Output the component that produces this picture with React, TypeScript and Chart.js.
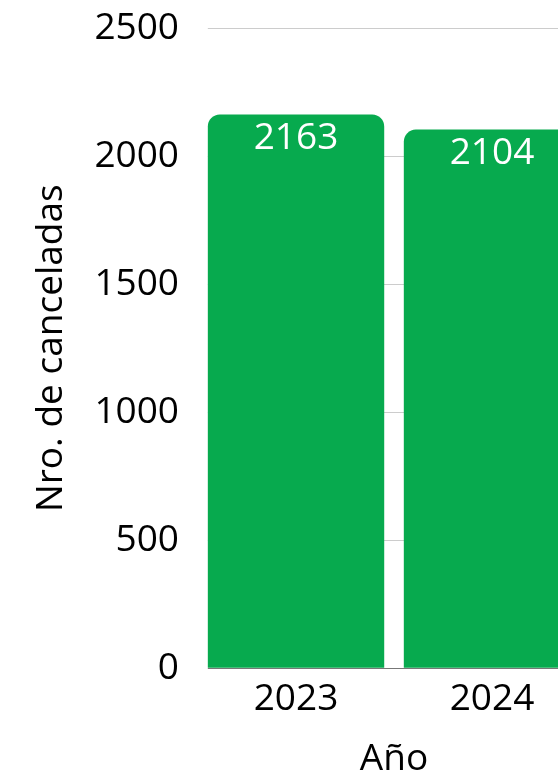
import React, { useEffect, useRef } from "react";
import { Chart, registerables } from "chart.js";

Chart.register(...registerables);

const categories: string[] = ["2023", "2024"];
const cancelled: number[] = [2163, 2104];
const yTicks: number[] = [0, 500, 1000, 1500, 2000, 2500];

const FONT = "'Open Sans', 'Noto Sans', sans-serif";
const SIZE = 37;
const GREEN = "#07AA4E";

// Grid lines in the reference begin at the first bar's left edge.
const gridStart = {
  id: "gridStart",
  beforeDatasetsDraw(chart: any) {
    const meta = chart.getDatasetMeta(0);
    const first = meta.data[0];
    if (!first) return;
    const { left, top, bottom } = chart.chartArea;
    const edge = first.x - first.width / 2;
    if (edge <= left) return;
    const ctx = chart.ctx;
    ctx.save();
    ctx.fillStyle = "#ffffff";
    ctx.fillRect(left - 1, top - 2, edge - left + 1, bottom - top + 4);
    ctx.restore();
  },
};

const valueLabels = {
  id: "valueLabels",
  afterDatasetsDraw(chart: any) {
    const ctx = chart.ctx;
    const meta = chart.getDatasetMeta(0);
    const data = chart.data.datasets[0].data as number[];
    ctx.save();
    ctx.fillStyle = "#ffffff";
    ctx.font = `${SIZE}px ${FONT}`;
    ctx.textAlign = "center";
    ctx.textBaseline = "top";
    meta.data.forEach((bar: any, i: number) => {
      ctx.fillText(String(data[i]), bar.x, bar.y + 5);
    });
    ctx.restore();
  },
};

export default function App() {
  const ref = useRef<HTMLCanvasElement | null>(null);

  useEffect(() => {
    if (!ref.current) return;
    const chart = new Chart(ref.current, {
      type: "bar",
      data: {
        labels: categories,
        datasets: [
          {
            data: cancelled,
            backgroundColor: GREEN,
            borderRadius: 12,
            borderSkipped: "start",
            categoryPercentage: 1,
            barPercentage: 0.9,
          },
        ],
      },
      options: {
        animation: false,
        responsive: true,
        maintainAspectRatio: false,
        layout: { padding: { left: 25, top: 26, right: 10, bottom: 0 } },
        plugins: { legend: { display: false }, tooltip: { enabled: false } },
        scales: {
          x: {
            grid: { display: false },
            border: { display: true, color: "#777777", width: 1 },
            ticks: { color: "#000", padding: 1, font: { family: FONT, size: SIZE } },
            title: {
              display: true,
              text: "Año",
              color: "#000",
              padding: { top: 15, bottom: 0 },
              font: { family: FONT, size: SIZE },
            },
          },
          y: {
            min: yTicks[0],
            max: yTicks[yTicks.length - 1],
            afterBuildTicks: (axis: any) => {
              axis.ticks = yTicks.map((v) => ({ value: v }));
            },
            grid: { color: "#cccccc", drawTicks: false, lineWidth: 1 },
            border: { display: false },
            ticks: {
              color: "#000",
              padding: 19,
              font: { family: FONT, size: SIZE, lineHeight: 0.5 },
              callback: (v: any) => String(v),
            },
            title: {
              display: true,
              text: "Nro. de canceladas",
              color: "#000",
              padding: { top: 4, bottom: 2 },
              font: { family: FONT, size: SIZE },
            },
          },
        },
      },
      plugins: [gridStart, valueLabels],
    });
    return () => chart.destroy();
  }, []);

  return (
    <div
      style={{
        position: "fixed",
        left: 0,
        top: 0,
        width: 558,
        height: 776,
        overflow: "hidden",
        background: "#fff",
      }}
    >
      <div style={{ position: "relative", width: 600, height: 782 }}>
        <canvas ref={ref} />
      </div>
    </div>
  );
}
